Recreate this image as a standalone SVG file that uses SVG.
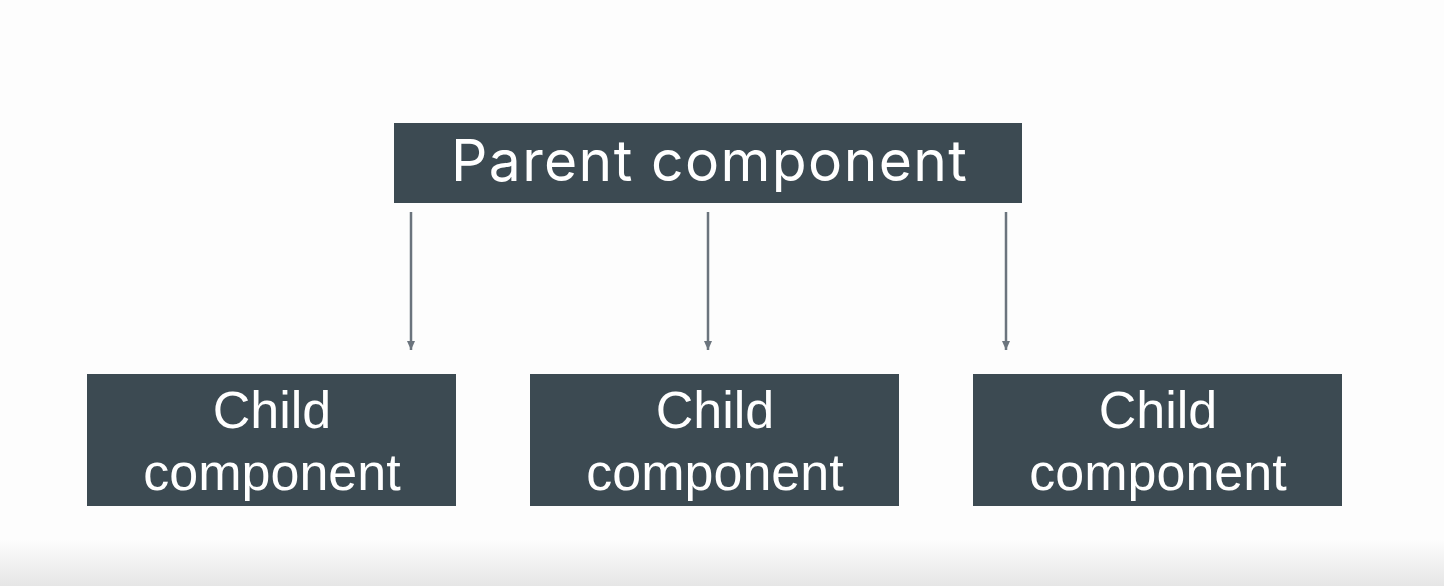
<svg xmlns="http://www.w3.org/2000/svg" width="1444" height="586" viewBox="0 0 1444 586">
  <defs>
    <linearGradient id="floor" x1="0" y1="0" x2="0" y2="1">
      <stop offset="0" stop-color="#fdfdfd"/>
      <stop offset="1" stop-color="#e6e6e6"/>
    </linearGradient>
    <marker id="arrow" viewBox="0 0 10 10" refX="9" refY="5" markerWidth="10" markerHeight="10" markerUnits="userSpaceOnUse" orient="auto">
      <path d="M0,1 L9,5 L0,9 Z" fill="#6b747d"/>
    </marker>
    <style>
      .box { fill: #3c4a52; }
      .parent-label { font-family: Inter, "Noto Sans", sans-serif; font-size: 57px; fill: #ffffff; text-anchor: middle; }
      .child-label { font-family: "Liberation Sans", Arial, sans-serif; font-size: 52px; fill: #ffffff; text-anchor: middle; }
      .link { stroke: #6b747d; stroke-width: 2.5; fill: none; }
    </style>
  </defs>

  <!-- backdrop -->
  <rect x="0" y="0" width="1444" height="586" fill="#fdfdfd"/>
  <rect x="0" y="540" width="1444" height="46" fill="url(#floor)"/>

  <!-- parent -->
  <g id="parent">
    <rect class="box" x="394" y="123" width="628" height="80"/>
    <text class="parent-label" x="709" y="181" textLength="516" lengthAdjust="spacing">Parent component</text>
  </g>

  <!-- children -->
  <g id="child-1">
    <rect class="box" x="87" y="374" width="369" height="132"/>
    <text class="child-label" x="272" y="428">Child</text>
    <text class="child-label" x="272" y="490">component</text>
  </g>
  <g id="child-2">
    <rect class="box" x="530" y="374" width="369" height="132"/>
    <text class="child-label" x="715" y="428">Child</text>
    <text class="child-label" x="715" y="490">component</text>
  </g>
  <g id="child-3">
    <rect class="box" x="973" y="374" width="369" height="132"/>
    <text class="child-label" x="1158" y="428">Child</text>
    <text class="child-label" x="1158" y="490">component</text>
  </g>

  <!-- connectors -->
  <g id="connectors">
    <line class="link" x1="411" y1="212" x2="411" y2="350" marker-end="url(#arrow)"/>
    <line class="link" x1="708" y1="212" x2="708" y2="350" marker-end="url(#arrow)"/>
    <line class="link" x1="1006" y1="212" x2="1006" y2="350" marker-end="url(#arrow)"/>
  </g>
</svg>
